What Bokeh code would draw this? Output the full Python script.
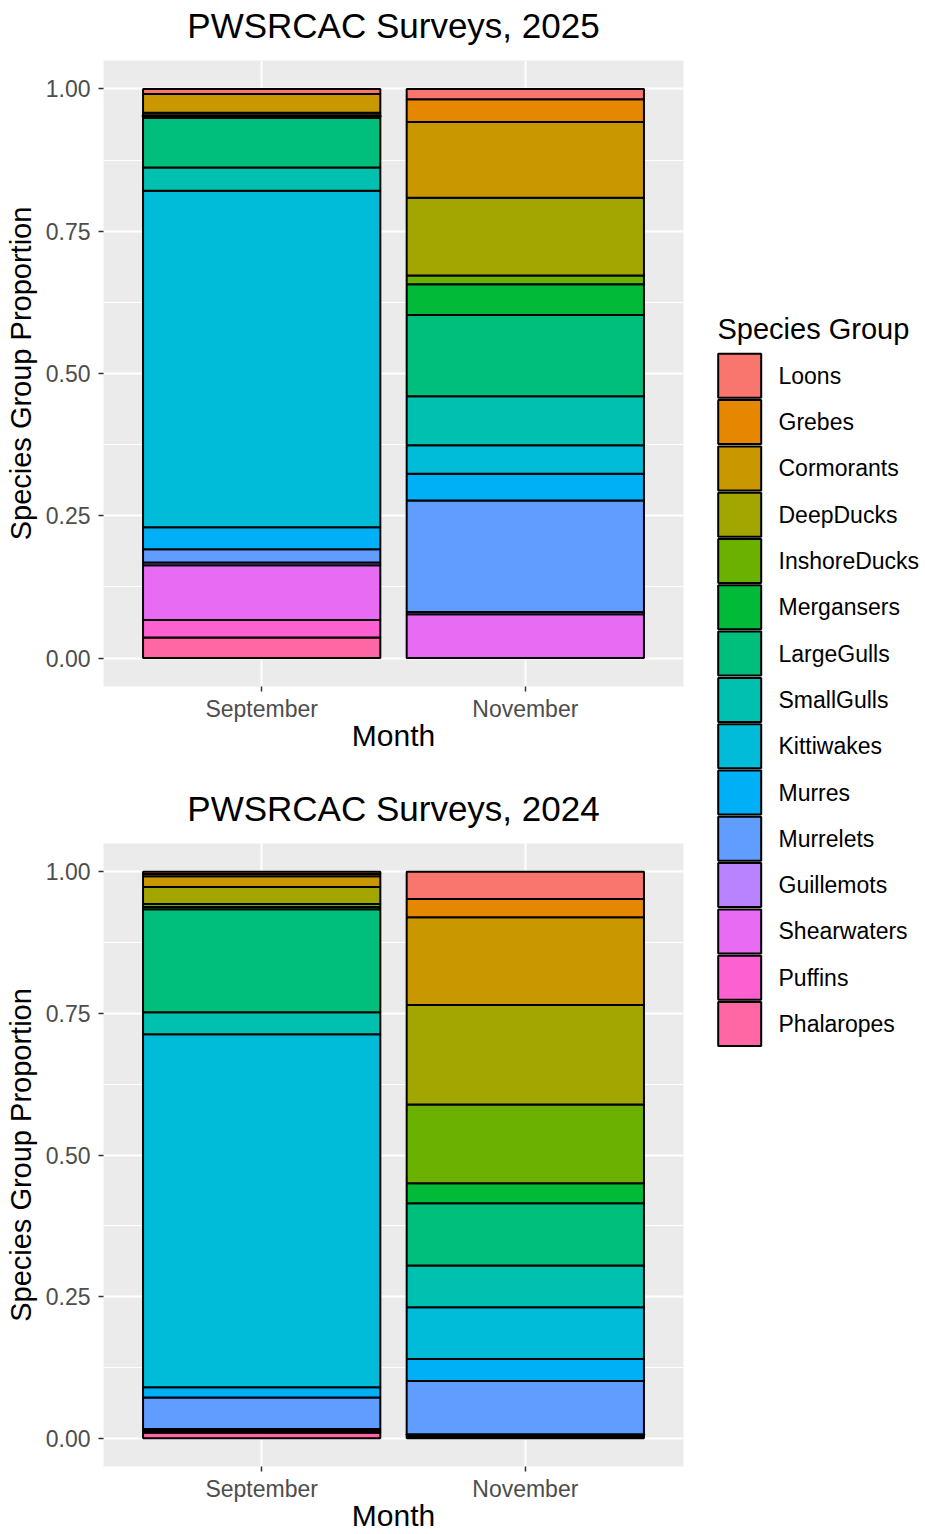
from bokeh.plotting import figure
from bokeh.models import (ColumnDataSource, FactorRange, Range1d, FixedTicker,
                          NumeralTickFormatter, Label)
from bokeh.core.properties import value
from bokeh.layouts import row, column
from bokeh.embed import file_html
from bokeh.resources import INLINE

months = ["September", "November"]
species = ["Loons", "Grebes", "Cormorants", "DeepDucks", "InshoreDucks", "Mergansers",
           "LargeGulls", "SmallGulls", "Kittiwakes", "Murres", "Murrelets", "Guillemots",
           "Shearwaters", "Puffins", "Phalaropes"]
colors = ["#F8766D", "#E58700", "#C99800", "#A3A500", "#6BB100", "#00BA38", "#00BF7D",
          "#00C0AF", "#00BCD8", "#00B0F6", "#619CFF", "#B983FF", "#E76BF3", "#FD61D1",
          "#FF67A4"]
titles = ["PWSRCAC Surveys, 2025", "PWSRCAC Surveys, 2024"]

# proportions, in species order
sep_2025 = [0.009, 0.0, 0.033, 0.004, 0.002, 0.003, 0.087, 0.041, 0.591, 0.039, 0.023,
            0.005, 0.096, 0.031, 0.036]
nov_2025 = [0.018, 0.040, 0.133, 0.137, 0.015, 0.054, 0.143, 0.086, 0.050, 0.047, 0.196,
            0.004, 0.077, 0.0, 0.0]
sep_2024 = [0.004, 0.004, 0.019, 0.030, 0.005, 0.004, 0.182, 0.039, 0.623, 0.018, 0.056,
            0.003, 0.003, 0.0, 0.010]
nov_2024 = [0.048, 0.032, 0.155, 0.176, 0.139, 0.035, 0.110, 0.074, 0.091, 0.039, 0.094,
            0.003, 0.002, 0.0, 0.002]

FONT = "Liberation Sans"
LEFT, RIGHT = 103, 15
FRAME_W = 580
FRAME_H = 626
FIG_W = LEFT + FRAME_W + RIGHT


def make_title(text, height):
    # the column layout aligns this strip's frame with the panel's frame below it
    t = figure(width=FIG_W, height=height, x_range=Range1d(0, 1), y_range=Range1d(0, height),
               output_backend="svg", toolbar_location=None, x_axis_type=None,
               y_axis_type=None, min_border=0)
    t.outline_line_color = None
    t.xgrid.visible = False
    t.ygrid.visible = False
    t.add_layout(Label(x=0.5, y=35, text=text, text_align="center",
                       text_baseline="middle", text_font=FONT, text_font_size="35px",
                       text_color="black"))
    return t


def make_panel(sep_vals, nov_vals, bottom_border):
    data = {"month": months}
    for s, a, b in zip(species, sep_vals, nov_vals):
        data[s] = [a, b]
    src = ColumnDataSource(data)
    p = figure(x_range=FactorRange(*months, range_padding=0.1, range_padding_units="absolute"),
               y_range=Range1d(-0.05, 1.05), width=FIG_W, height=FRAME_H + bottom_border,
               output_backend="svg", toolbar_location=None,
               min_border_left=LEFT, min_border_right=RIGHT,
               min_border_top=0, min_border_bottom=bottom_border)
    p.vbar_stack(list(reversed(species)), x="month", width=0.9, source=src,
                 fill_color=list(reversed(colors)), line_color="black", line_width=2)
    p.background_fill_color = "#EBEBEB"
    p.border_fill_color = "white"
    p.outline_line_color = None
    p.yaxis.ticker = FixedTicker(ticks=[0, 0.25, 0.5, 0.75, 1.0],
                                 minor_ticks=[0.125, 0.375, 0.625, 0.875])
    p.yaxis.formatter = NumeralTickFormatter(format="0.00")
    for ax in (p.xaxis, p.yaxis):
        ax.axis_line_color = None
        ax.minor_tick_line_color = None
        ax.major_tick_line_color = "#333333"
        ax.major_tick_line_width = 1.5
        ax.major_tick_out = 5
        ax.major_tick_in = 0
        ax.major_label_text_font = FONT
        ax.major_label_text_font_size = "23px"
        ax.major_label_text_color = "#4D4D4D"
        ax.axis_label_text_font = FONT
        ax.axis_label_text_font_style = "normal"
        ax.axis_label_text_color = "black"
    p.yaxis.axis_label = "Species Group Proportion"
    p.yaxis.axis_label_text_font_size = "29px"
    p.yaxis.major_label_standoff = 8
    p.yaxis.axis_label_standoff = 6
    p.xaxis.axis_label = "Month"
    p.xaxis.axis_label_text_font_size = "30px"
    p.xaxis.major_label_standoff = 4
    p.xaxis.axis_label_standoff = -6
    p.xgrid.grid_line_color = "white"
    p.xgrid.grid_line_width = 2
    p.ygrid.grid_line_color = "white"
    p.ygrid.grid_line_width = 2
    p.ygrid.minor_grid_line_color = "white"
    p.ygrid.minor_grid_line_width = 1
    return p


t1 = make_title(titles[0], 60)
p1 = make_panel(sep_2025, nov_2025, 79)
t2 = make_title(titles[1], 78)
p2 = make_panel(sep_2024, nov_2024, 65)

# legend panel: one row per species, positioned through the panel's own scales
LEG_H = t1.height + p1.height + t2.height + p2.height
pitch = 46.3
first_center = 375.3
pl = figure(width=227, height=LEG_H, x_range=Range1d(0, 227),
            y_range=Range1d((LEG_H - first_center) / pitch, -first_center / pitch),
            output_backend="svg", toolbar_location=None, x_axis_type=None, y_axis_type=None,
            min_border=0)
pl.outline_line_color = None
pl.xgrid.visible = False
pl.ygrid.visible = False
pl.background_fill_color = "white"
leg_src = ColumnDataSource({"idx": list(range(len(species))), "label": species,
                            "color": colors})
pl.rect(x=41.2, y="idx", width=43, height=44, width_units="screen", height_units="screen",
        fill_color="color", line_color="black", line_width=2, source=leg_src)
pl.text(x=80, y="idx", text="label", text_font=value(FONT), text_font_size=value("23px"),
        text_baseline="middle", text_align="left", text_color="black", source=leg_src)
pl.text(x=[19], y=[(328 - first_center) / pitch], text=["Species Group"],
        text_font=value(FONT), text_font_size=value("29px"),
        text_baseline="middle", text_align="left", text_color="black")

layout = row(column(t1, p1, t2, p2), pl)
open("out.html", "w").write(file_html(layout, INLINE))
